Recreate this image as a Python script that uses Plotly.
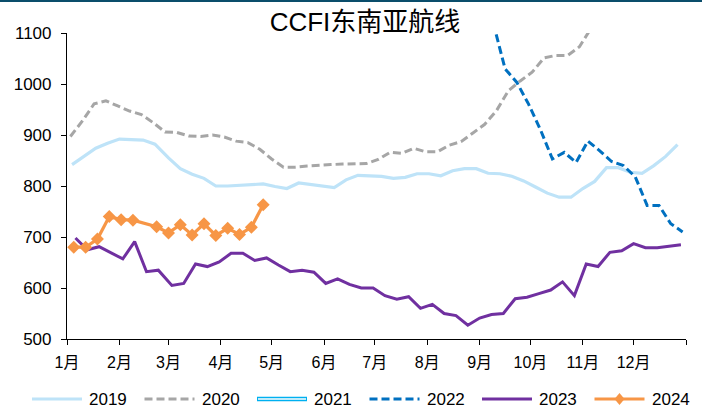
import pandas as pd
import plotly.graph_objects as go

# ---------------- data (weekly CCFI South-East Asia route index) ----------------
months = ["1月", "2月", "3月", "4月", "5月", "6月", "7月", "8月", "9月", "10月", "11月", "12月"]

y2019 = [842, 858, 874, 884, 892, 891, 890, 882, 855, 834,
         823, 815, 800, 800, 801, 803, 804, 799, 795, 806,
         803, 800, 797, 812, 821, 820, 819, 815, 817, 824,
         824, 820, 830, 834, 834, 825, 824, 819, 810, 798,
         786, 778, 778, 795, 809, 836, 836, 827, 825, 840,
         858, 881]

y2020 = [897, 927, 961, 967, 957, 947, 940, 924, 906, 905,
         898, 897, 900, 896, 888, 885, 872, 853, 837, 837,
         839, 841, 842, 843, 843, 844, 852, 866, 864, 874,
         867, 867, 880, 887, 904, 921, 948, 987, 1006, 1023,
         1051, 1056, 1056, 1073, 1110]

y2021 = []  # whole year sits above the 1100 ceiling

y2022 = [1120, 1030, 1003, 960, 910, 853, 866, 846, 888, 869,
         848, 840, 818, 762, 762, 726, 710]

y2023 = [698, 675, 681, 657, 691, 632, 635, 605, 609, 647,
         642, 651, 668, 668, 654, 659, 645, 632, 635, 631,
         609, 618, 607, 600, 600, 585, 578, 583, 560, 568,
         550, 546, 527, 541, 548, 550, 579, 582, 589, 596,
         612, 585, 647, 642, 670, 673, 687, 679, 679, 682,
         685]

y2024 = [680, 680, 696, 740, 734, 733, 720, 708, 724, 704,
         726, 703, 717, 705, 719, 763]


def fridays(first, n, skip=()):
    """Weekly release dates, minus holiday weeks, folded onto one calendar year."""
    d = pd.date_range(first, periods=n, freq="7D")
    d = d[~d.isin(pd.to_datetime(list(skip)))]
    return [t.replace(year=2024) for t in d]


x2019 = fridays("2019-01-04", len(y2019))
x2020 = fridays("2020-01-03", len(y2020))
x2021 = fridays("2021-01-08", len(y2021))
x2022 = fridays("2022-09-09", len(y2022))
x2023 = fridays("2023-01-06", len(y2023) + 1, skip=["2023-01-27"])
x2024 = fridays("2024-01-05", len(y2024) + 1, skip=["2024-02-16"])

# ---------------- styling ----------------
W, H = 702, 408
ML, MR, MT, MB = 67, 16, 33, 69
PW, PH = W - ML - MR, H - MT - MB
FONT = "Liberation Sans, Arial, Noto Sans CJK SC, sans-serif"

series = [
    dict(name="2019", x=x2019, y=y2019, color="#BEE3F8", width=3.2, dash="solid"),
    dict(name="2020", x=x2020, y=y2020, color="#A6A6A6", width=3, dash="8px,4px"),
    dict(name="2021", x=x2021, y=y2021, color="#00B0F0", width=3, dash="solid", double=True),
    dict(name="2022", x=x2022, y=y2022, color="#0070C0", width=3, dash="8px,4px"),
    dict(name="2023", x=x2023, y=y2023, color="#7030A0", width=3, dash="solid"),
    dict(name="2024", x=x2024, y=y2024, color="#F79646", width=3.2, dash="solid", marker=True),
]

fig = go.Figure()
for s in series:
    tr = dict(x=s["x"], y=s["y"], name=s["name"], mode="lines",
              line=dict(color=s["color"], width=s["width"], dash=s["dash"]),
              showlegend=False)
    if s.get("marker"):
        tr["mode"] = "lines+markers"
        tr["marker"] = dict(symbol="diamond", size=10, color=s["color"])
    fig.add_trace(go.Scatter(**tr))


def px_x(px):
    return (px - ML) / PW


def px_y(py):
    return (H - MB - py) / PH


shapes = []
annotations = []

# legend row along the bottom
leg_y = px_y(399)
for i, s in enumerate(series):
    x0 = 32 + i * 112.5
    x1 = x0 + 50
    if s.get("double"):
        shapes.append(dict(type="line", xref="paper", yref="paper",
                           x0=px_x(x0), x1=px_x(x1), y0=leg_y, y1=leg_y,
                           line=dict(color=s["color"], width=4.5)))
        shapes.append(dict(type="line", xref="paper", yref="paper",
                           x0=px_x(x0 + 1), x1=px_x(x1 - 1), y0=leg_y, y1=leg_y,
                           line=dict(color="white", width=1.6)))
    else:
        shapes.append(dict(type="line", xref="paper", yref="paper",
                           x0=px_x(x0), x1=px_x(x1), y0=leg_y, y1=leg_y,
                           line=dict(color=s["color"], width=s["width"], dash=s["dash"])))
    if s.get("marker"):
        cx, cy, r = (x0 + x1) / 2, 399, 5
        path = (f"M{px_x(cx - r)},{px_y(cy)} L{px_x(cx)},{px_y(cy - r * 1.2)} "
                f"L{px_x(cx + r)},{px_y(cy)} L{px_x(cx)},{px_y(cy + r * 1.2)} Z")
        shapes.append(dict(type="path", xref="paper", yref="paper", path=path,
                           fillcolor=s["color"], line=dict(width=0)))
    annotations.append(dict(text=s["name"], xref="paper", yref="paper",
                            x=px_x(x1 + 5), y=leg_y, xanchor="left", yanchor="middle",
                            showarrow=False, font=dict(family=FONT, size=17, color="#000000")))

# thin rule across the top edge
shapes.append(dict(type="line", xref="paper", yref="paper",
                   x0=px_x(0), x1=px_x(W), y0=px_y(1), y1=px_y(1),
                   line=dict(color="#0A4D6B", width=2)))

tickvals = [pd.Timestamp(2024, m, 1) for m in range(1, 13)] + [pd.Timestamp(2025, 1, 1)]
ticktext = months + [""]

fig.update_layout(
    width=W, height=H,
    margin=dict(l=ML, r=MR, t=MT, b=MB, pad=0),
    paper_bgcolor="white", plot_bgcolor="white",
    font=dict(family=FONT, size=16, color="#000000"),
    title=dict(text="CCFI东南亚航线", x=365 / W, xanchor="center",
               y=1 - 22 / H, yanchor="middle",
               font=dict(family=FONT, size=26, color="#000000")),
    xaxis=dict(type="date", range=[pd.Timestamp(2024, 1, 1), pd.Timestamp(2025, 1, 1)],
               tickmode="array", tickvals=tickvals, ticktext=ticktext,
               showline=True, linecolor="#000000", linewidth=1.2,
               ticks="outside", ticklen=5, tickcolor="#000000", tickwidth=1.2,
               showgrid=False, zeroline=False, ticklabelstandoff=4,
               tickfont=dict(family=FONT, size=16, color="#000000")),
    yaxis=dict(range=[500, 1100], tickmode="linear", tick0=500, dtick=100,
               showline=True, linecolor="#000000", linewidth=1.2,
               ticks="outside", ticklen=5, tickcolor="#000000", tickwidth=1.2,
               showgrid=False, zeroline=False, ticklabelstandoff=6,
               tickfont=dict(family=FONT, size=17, color="#000000")),
    shapes=shapes,
    annotations=annotations,
    showlegend=False,
)

fig.write_html("out.html")
